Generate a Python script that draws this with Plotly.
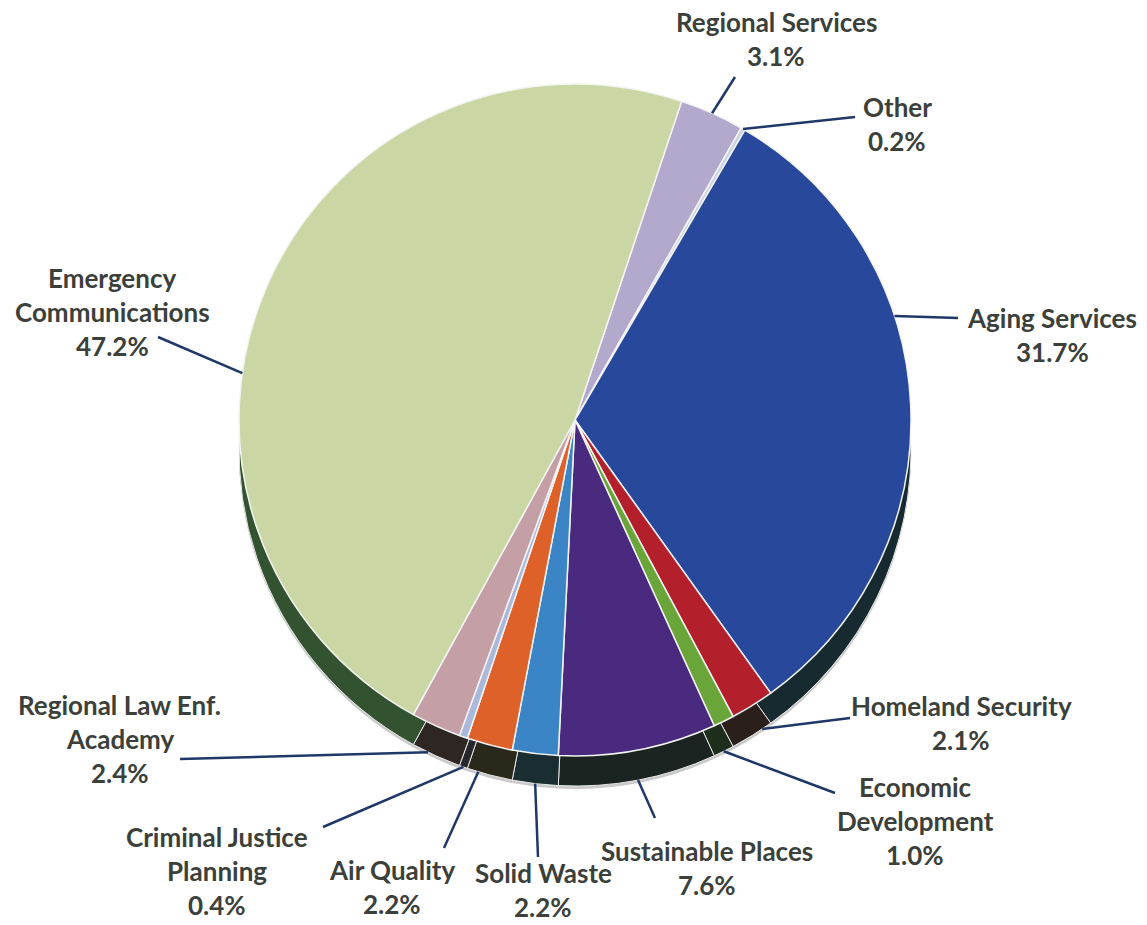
import math
import plotly.graph_objects as go

# ---------------- data ----------------
categories = [
    "Regional Services", "Other", "Aging Services", "Homeland Security",
    "Economic Development", "Sustainable Places", "Solid Waste", "Air Quality",
    "Criminal Justice Planning", "Regional Law Enf. Academy", "Emergency Communications",
]
percentages = [3.1, 0.2, 31.7, 2.1, 1.0, 7.6, 2.2, 2.2, 0.4, 2.4, 47.2]

label_lines = [
    ["Regional Services"], ["Other"], ["Aging Services"], ["Homeland Security"],
    ["Economic", "Development"], ["Sustainable Places"], ["Solid Waste"], ["Air Quality"],
    ["Criminal Justice", "Planning"], ["Regional Law Enf.", "Academy"],
    ["Emergency", "Communications"],
]

# ---------------- styles / layout ----------------
top_colors = ["#b3a9cc", "#c9d3e6", "#28489c", "#b3202c", "#6aa53a", "#4a2a7e",
              "#3b85c6", "#dd6128", "#aab8dc", "#c4a0a6", "#cad7a4"]
side_colors = ["#3b3848", "#3a4048", "#172a2f", "#2b1f1c", "#1e2e1c", "#1b2421",
               "#1a2e31", "#2a271b", "#26282e", "#2e2622", "#33522f"]

W, H = 1147, 925
CX, CY, R = 575, 420, 336
DEPTH = 30
ROTATION = 18.5
LINE_PITCH = 34
TEXT_COLOR = "#3b403b"
LEADER_COLOR = "#1f3868"

label_pos = [(776, 22), (897, 107), (1052, 318), (961, 706), (915, 787), (707, 851),
             (543, 873), (392, 870), (217, 837), (120, 705), (112, 278)]
line_start = [(735, 77), (855, 117), (958, 318), (850, 718), (835, 793), (655, 818),
              (538, 857), (444, 848), (323, 827), (180, 759), (158, 337)]
anchor_shift = [0, 0, -15.4, -2, 0, 0, 0, 2, 0, 1.5, -15.6]
anchor_on_side = [0, 0, 0, 1, 1, 1, 1, 1, 1, 1, 0]


def px(x):
    return x / W


def py(y):
    return 1 - y / H


def domain(dy=0):
    return dict(x=[px(CX - R), px(CX + R)], y=[py(CY + dy + R), py(CY + dy - R)])


fig = go.Figure()

# soft drop edge
fig.add_trace(go.Pie(
    labels=categories, values=percentages, sort=False, direction="clockwise",
    rotation=ROTATION, domain=domain(DEPTH + 3), textinfo="none", hoverinfo="skip",
    marker=dict(colors=["#c9c9c9"] * len(categories), line=dict(width=0)),
    showlegend=False,
))
# 3D side (depth)
fig.add_trace(go.Pie(
    labels=categories, values=percentages, sort=False, direction="clockwise",
    rotation=ROTATION, domain=domain(DEPTH), textinfo="none", hoverinfo="skip",
    marker=dict(colors=side_colors, line=dict(color="#e8e8e8", width=1)),
    showlegend=False,
))
# top face
fig.add_trace(go.Pie(
    labels=categories, values=percentages, sort=False, direction="clockwise",
    rotation=ROTATION, domain=domain(0), textinfo="none",
    marker=dict(colors=top_colors, line=dict(color="#f4f4f4", width=1.5)),
    showlegend=False,
))

# leader lines and labels
total = sum(percentages)
cum = 0.0
shapes = []
annotations = []
for i, v in enumerate(percentages):
    mid = ROTATION + (cum + v / 2) / total * 360
    cum += v
    ang = math.radians(mid + anchor_shift[i])
    ex = CX + R * math.sin(ang)
    ey = CY - R * math.cos(ang) + (DEPTH if anchor_on_side[i] else 0)
    sx, sy = line_start[i]
    shapes.append(dict(type="line", xref="paper", yref="paper",
                       x0=px(sx), y0=py(sy), x1=px(ex), y1=py(ey),
                       line=dict(color=LEADER_COLOR, width=2.5)))
    lines = label_lines[i] + [f"{v:.1f}%"]
    lx, ly = label_pos[i]
    for j, t in enumerate(lines):
        annotations.append(dict(
            x=px(lx), y=py(ly + j * LINE_PITCH), xref="paper", yref="paper",
            text=t, showarrow=False, xanchor="center", yanchor="middle",
            font=dict(family="Lato", size=26, color=TEXT_COLOR, weight="bold"),
        ))

fig.update_layout(
    width=W, height=H, margin=dict(l=0, r=0, t=0, b=0),
    paper_bgcolor="white", plot_bgcolor="white",
    shapes=shapes, annotations=annotations, showlegend=False,
)

fig.write_html("out.html")
